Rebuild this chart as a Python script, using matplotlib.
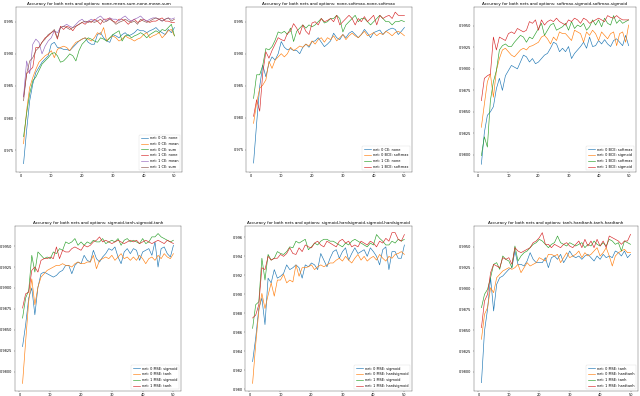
import matplotlib
matplotlib.use("Agg")
import matplotlib.pyplot as plt

epochs = list(range(1, 51))
title_prefix = "Accuracy for both nets and options: "

# ---------- panel 1 ----------
p1_title = "none-mean-sum-none-mean-sum"
p1_labels = ["net: 0 CE: none", "net: 0 CE: mean", "net: 0 CE: sum",
             "net: 1 CE: none", "net: 1 CE: mean", "net: 1 CE: sum"]
p1_n0_none = [0.9729, 0.9781, 0.9827, 0.9853, 0.9871, 0.9879, 0.9887, 0.9892, 0.9897, 0.9915,
              0.9918, 0.9910, 0.9909, 0.9907, 0.9907, 0.9905, 0.9910, 0.9915, 0.9920, 0.9923,
              0.9925, 0.9918, 0.9915, 0.9915, 0.9930, 0.9933, 0.9925, 0.9920, 0.9918, 0.9930,
              0.9928, 0.9925, 0.9930, 0.9933, 0.9928, 0.9930, 0.9933, 0.9938, 0.9936, 0.9936,
              0.9933, 0.9936, 0.9938, 0.9941, 0.9936, 0.9933, 0.9930, 0.9938, 0.9933, 0.9941]
p1_n0_mean = [0.9760, 0.9812, 0.9848, 0.9863, 0.9876, 0.9887, 0.9892, 0.9897, 0.9900, 0.9905,
              0.9894, 0.9907, 0.9910, 0.9912, 0.9910, 0.9905, 0.9912, 0.9918, 0.9920, 0.9923,
              0.9925, 0.9923, 0.9920, 0.9925, 0.9933, 0.9930, 0.9941, 0.9920, 0.9925, 0.9928,
              0.9925, 0.9920, 0.9923, 0.9928, 0.9925, 0.9923, 0.9920, 0.9923, 0.9925, 0.9930,
              0.9933, 0.9925, 0.9928, 0.9930, 0.9933, 0.9925, 0.9930, 0.9936, 0.9938, 0.9928]
p1_n0_sum = [0.9771, 0.9807, 0.9838, 0.9858, 0.9864, 0.9874, 0.9884, 0.9889, 0.9894, 0.9900,
             0.9902, 0.9897, 0.9887, 0.9889, 0.9894, 0.9900, 0.9897, 0.9889, 0.9905, 0.9915,
             0.9920, 0.9925, 0.9923, 0.9920, 0.9918, 0.9925, 0.9923, 0.9920, 0.9925, 0.9930,
             0.9933, 0.9936, 0.9920, 0.9928, 0.9930, 0.9925, 0.9928, 0.9930, 0.9933, 0.9930,
             0.9925, 0.9930, 0.9933, 0.9936, 0.9933, 0.9938, 0.9936, 0.9941, 0.9946, 0.9928]
p1_n1_none = [0.9833, 0.9869, 0.9874, 0.9879, 0.9910, 0.9910, 0.9918, 0.9925, 0.9928, 0.9933,
              0.9936, 0.9923, 0.9943, 0.9938, 0.9943, 0.9941, 0.9936, 0.9943, 0.9946, 0.9949,
              0.9946, 0.9951, 0.9949, 0.9954, 0.9951, 0.9946, 0.9954, 0.9954, 0.9956, 0.9951,
              0.9949, 0.9954, 0.9954, 0.9951, 0.9946, 0.9951, 0.9954, 0.9949, 0.9951, 0.9954,
              0.9951, 0.9949, 0.9951, 0.9951, 0.9954, 0.9956, 0.9951, 0.9951, 0.9949, 0.9949]
p1_n1_mean = [0.9833, 0.9889, 0.9869, 0.9915, 0.9923, 0.9918, 0.9900, 0.9912, 0.9920, 0.9925,
              0.9936, 0.9933, 0.9941, 0.9943, 0.9946, 0.9943, 0.9941, 0.9946, 0.9951, 0.9954,
              0.9949, 0.9951, 0.9954, 0.9951, 0.9956, 0.9959, 0.9954, 0.9951, 0.9956, 0.9954,
              0.9954, 0.9951, 0.9956, 0.9959, 0.9954, 0.9951, 0.9954, 0.9956, 0.9959, 0.9954,
              0.9951, 0.9954, 0.9956, 0.9956, 0.9954, 0.9951, 0.9954, 0.9956, 0.9954, 0.9956]
p1_n1_sum = [0.9827, 0.9869, 0.9889, 0.9894, 0.9905, 0.9910, 0.9918, 0.9923, 0.9930, 0.9933,
             0.9938, 0.9925, 0.9941, 0.9943, 0.9941, 0.9938, 0.9941, 0.9943, 0.9946, 0.9949,
             0.9951, 0.9949, 0.9951, 0.9949, 0.9951, 0.9954, 0.9949, 0.9951, 0.9954, 0.9951,
             0.9946, 0.9949, 0.9951, 0.9954, 0.9951, 0.9949, 0.9951, 0.9946, 0.9954, 0.9951,
             0.9949, 0.9951, 0.9954, 0.9956, 0.9954, 0.9951, 0.9954, 0.9956, 0.9951, 0.9954]
p1_ticks = [0.975, 0.980, 0.985, 0.990, 0.995]
p1_ylim = (0.9716, 0.9973)

# ---------- panel 2 ----------
p2_title = "none-softmax-none-softmax"
p2_labels = ["net: 0 CE: none", "net: 0 BCE: softmax", "net: 1 CE: none", "net: 1 BCE: softmax"]
p2_a = [0.9729, 0.9791, 0.9849, 0.9882, 0.9864, 0.9885, 0.9895, 0.9890, 0.9900, 0.9919,
        0.9910, 0.9906, 0.9908, 0.9905, 0.9905, 0.9900, 0.9910, 0.9915, 0.9910, 0.9919,
        0.9920, 0.9925, 0.9918, 0.9911, 0.9915, 0.9920, 0.9932, 0.9925, 0.9922, 0.9930,
        0.9925, 0.9932, 0.9935, 0.9930, 0.9925, 0.9930, 0.9938, 0.9932, 0.9925, 0.9933,
        0.9935, 0.9937, 0.9930, 0.9935, 0.9938, 0.9940, 0.9938, 0.9930, 0.9935, 0.9941]
p2_b = [0.9791, 0.9823, 0.9846, 0.9851, 0.9859, 0.9888, 0.9877, 0.9890, 0.9895, 0.9900,
        0.9895, 0.9900, 0.9910, 0.9905, 0.9908, 0.9912, 0.9910, 0.9915, 0.9912, 0.9920,
        0.9915, 0.9922, 0.9925, 0.9918, 0.9925, 0.9922, 0.9928, 0.9920, 0.9925, 0.9930,
        0.9922, 0.9928, 0.9932, 0.9928, 0.9925, 0.9930, 0.9935, 0.9928, 0.9930, 0.9933,
        0.9928, 0.9932, 0.9930, 0.9935, 0.9932, 0.9928, 0.9933, 0.9935, 0.9932, 0.9928]
p2_c = [0.9830, 0.9867, 0.9867, 0.9882, 0.9908, 0.9906, 0.9911, 0.9921, 0.9934, 0.9932,
        0.9935, 0.9930, 0.9940, 0.9919, 0.9935, 0.9940, 0.9945, 0.9940, 0.9945, 0.9942,
        0.9945, 0.9950, 0.9955, 0.9948, 0.9950, 0.9955, 0.9955, 0.9960, 0.9955, 0.9934,
        0.9945, 0.9950, 0.9955, 0.9960, 0.9950, 0.9955, 0.9955, 0.9950, 0.9945, 0.9950,
        0.9955, 0.9960, 0.9955, 0.9950, 0.9950, 0.9945, 0.9950, 0.9950, 0.9952, 0.9950]
p2_d = [0.9802, 0.9828, 0.9810, 0.9870, 0.9903, 0.9893, 0.9905, 0.9915, 0.9925, 0.9922,
        0.9920, 0.9932, 0.9935, 0.9947, 0.9940, 0.9930, 0.9945, 0.9935, 0.9930, 0.9948,
        0.9950, 0.9945, 0.9955, 0.9950, 0.9952, 0.9955, 0.9950, 0.9960, 0.9945, 0.9950,
        0.9955, 0.9960, 0.9955, 0.9945, 0.9955, 0.9950, 0.9958, 0.9950, 0.9955, 0.9960,
        0.9945, 0.9960, 0.9955, 0.9958, 0.9960, 0.9955, 0.9965, 0.9960, 0.9960, 0.9960]
p2_ticks = [0.975, 0.980, 0.985, 0.990, 0.995]
p2_ylim = (0.9715, 0.9973)

# ---------- panel 3 ----------
p3_title = "softmax-sigmoid-softmax-sigmoid"
p3_labels = ["net: 0 BCE: softmax", "net: 0 BCE: sigmoid", "net: 1 BCE: softmax", "net: 1 BCE: sigmoid"]
p3_a = [0.9789, 0.9826, 0.9846, 0.9850, 0.9856, 0.9877, 0.9889, 0.9875, 0.9892, 0.9898,
        0.9904, 0.9902, 0.9900, 0.9908, 0.9916, 0.9914, 0.9908, 0.9912, 0.9906, 0.9908,
        0.9912, 0.9916, 0.9918, 0.9924, 0.9931, 0.9929, 0.9920, 0.9924, 0.9920, 0.9926,
        0.9912, 0.9918, 0.9922, 0.9926, 0.9931, 0.9924, 0.9937, 0.9926, 0.9927, 0.9933,
        0.9929, 0.9934, 0.9929, 0.9926, 0.9933, 0.9935, 0.9931, 0.9927, 0.9939, 0.9927]
p3_b = [0.9832, 0.9859, 0.9885, 0.9894, 0.9867, 0.9898, 0.9912, 0.9922, 0.9924, 0.9920,
        0.9916, 0.9914, 0.9918, 0.9922, 0.9924, 0.9922, 0.9926, 0.9927, 0.9929, 0.9931,
        0.9937, 0.9939, 0.9935, 0.9929, 0.9937, 0.9933, 0.9943, 0.9941, 0.9941, 0.9937,
        0.9933, 0.9945, 0.9943, 0.9941, 0.9931, 0.9943, 0.9939, 0.9945, 0.9941, 0.9933,
        0.9943, 0.9939, 0.9935, 0.9941, 0.9943, 0.9927, 0.9941, 0.9943, 0.9931, 0.9951]
p3_c = [0.9799, 0.9821, 0.9809, 0.9863, 0.9885, 0.9898, 0.9922, 0.9927, 0.9929, 0.9926,
        0.9926, 0.9931, 0.9935, 0.9939, 0.9937, 0.9931, 0.9937, 0.9935, 0.9941, 0.9947,
        0.9953, 0.9939, 0.9945, 0.9951, 0.9953, 0.9945, 0.9947, 0.9949, 0.9953, 0.9945,
        0.9955, 0.9947, 0.9951, 0.9949, 0.9953, 0.9945, 0.9949, 0.9957, 0.9951, 0.9957,
        0.9949, 0.9959, 0.9953, 0.9951, 0.9962, 0.9953, 0.9957, 0.9953, 0.9955, 0.9957]
p3_d = [0.9863, 0.9889, 0.9892, 0.9894, 0.9937, 0.9922, 0.9937, 0.9935, 0.9933, 0.9941,
        0.9943, 0.9941, 0.9947, 0.9945, 0.9943, 0.9945, 0.9955, 0.9953, 0.9957, 0.9945,
        0.9957, 0.9951, 0.9955, 0.9957, 0.9955, 0.9959, 0.9955, 0.9953, 0.9951, 0.9957,
        0.9955, 0.9959, 0.9957, 0.9953, 0.9959, 0.9957, 0.9953, 0.9955, 0.9957, 0.9959,
        0.9957, 0.9955, 0.9962, 0.9960, 0.9959, 0.9962, 0.9959, 0.9957, 0.9957, 0.9957]
p3_ticks = [0.9800, 0.9825, 0.9850, 0.9875, 0.9900, 0.9925, 0.9950]
p3_ylim = (0.9780, 0.9972)

# ---------- panel 4 ----------
p4_title = "sigmoid-tanh-sigmoid-tanh"
p4_labels = ["net: 0 MSE: sigmoid", "net: 0 MSE: tanh", "net: 1 MSE: sigmoid", "net: 1 MSE: tanh"]
p4_a = [0.9830, 0.9856, 0.9888, 0.9900, 0.9868, 0.9901, 0.9917, 0.9919, 0.9917, 0.9915,
        0.9913, 0.9915, 0.9919, 0.9921, 0.9927, 0.9927, 0.9917, 0.9927, 0.9931, 0.9929,
        0.9939, 0.9933, 0.9931, 0.9945, 0.9935, 0.9931, 0.9937, 0.9941, 0.9947, 0.9945,
        0.9949, 0.9937, 0.9929, 0.9943, 0.9947, 0.9941, 0.9947, 0.9945, 0.9933, 0.9943,
        0.9945, 0.9947, 0.9939, 0.9955, 0.9925, 0.9947, 0.9949, 0.9941, 0.9937, 0.9951]
p4_b = [0.9786, 0.9836, 0.9884, 0.9911, 0.9880, 0.9901, 0.9913, 0.9917, 0.9921, 0.9923,
        0.9925, 0.9927, 0.9927, 0.9929, 0.9927, 0.9927, 0.9925, 0.9929, 0.9931, 0.9929,
        0.9929, 0.9931, 0.9931, 0.9939, 0.9923, 0.9933, 0.9935, 0.9937, 0.9935, 0.9939,
        0.9933, 0.9937, 0.9941, 0.9935, 0.9937, 0.9933, 0.9937, 0.9933, 0.9939, 0.9935,
        0.9929, 0.9935, 0.9937, 0.9933, 0.9939, 0.9935, 0.9941, 0.9937, 0.9935, 0.9941]
p4_c = [0.9864, 0.9888, 0.9897, 0.9939, 0.9919, 0.9943, 0.9939, 0.9935, 0.9937, 0.9935,
        0.9943, 0.9941, 0.9947, 0.9945, 0.9955, 0.9953, 0.9955, 0.9959, 0.9951, 0.9955,
        0.9951, 0.9955, 0.9953, 0.9957, 0.9955, 0.9955, 0.9959, 0.9953, 0.9955, 0.9957,
        0.9955, 0.9959, 0.9951, 0.9957, 0.9959, 0.9955, 0.9957, 0.9955, 0.9953, 0.9959,
        0.9953, 0.9955, 0.9961, 0.9961, 0.9965, 0.9961, 0.9959, 0.9957, 0.9955, 0.9957]
p4_d = [0.9876, 0.9893, 0.9895, 0.9921, 0.9925, 0.9919, 0.9933, 0.9935, 0.9935, 0.9937,
        0.9935, 0.9949, 0.9935, 0.9945, 0.9943, 0.9943, 0.9947, 0.9949, 0.9947, 0.9945,
        0.9951, 0.9949, 0.9951, 0.9955, 0.9957, 0.9961, 0.9955, 0.9957, 0.9955, 0.9953,
        0.9955, 0.9957, 0.9955, 0.9953, 0.9955, 0.9957, 0.9955, 0.9957, 0.9953, 0.9955,
        0.9957, 0.9955, 0.9953, 0.9955, 0.9957, 0.9955, 0.9953, 0.9957, 0.9955, 0.9953]
p4_ticks = [0.9800, 0.9825, 0.9850, 0.9875, 0.9900, 0.9925, 0.9950]
p4_ylim = (0.9777, 0.9974)

# ---------- panel 5 ----------
p5_title = "sigmoid-hardsigmoid-sigmoid-hardsigmoid"
p5_labels = ["net: 0 MSE: sigmoid", "net: 0 MSE: hardsigmoid", "net: 1 MSE: sigmoid", "net: 1 MSE: hardsigmoid"]
p5_a = [0.9829, 0.9854, 0.9885, 0.9896, 0.9868, 0.9917, 0.9912, 0.9926, 0.9917, 0.9919,
        0.9922, 0.9931, 0.9926, 0.9928, 0.9931, 0.9928, 0.9917, 0.9931, 0.9929, 0.9933,
        0.9931, 0.9926, 0.9943, 0.9936, 0.9929, 0.9938, 0.9945, 0.9947, 0.9938, 0.9945,
        0.9949, 0.9936, 0.9943, 0.9949, 0.9943, 0.9945, 0.9947, 0.9940, 0.9949, 0.9945,
        0.9940, 0.9931, 0.9947, 0.9950, 0.9926, 0.9945, 0.9945, 0.9938, 0.9938, 0.9952]
p5_b = [0.9806, 0.9847, 0.9882, 0.9901, 0.9885, 0.9899, 0.9912, 0.9898, 0.9915, 0.9915,
        0.9921, 0.9912, 0.9915, 0.9913, 0.9931, 0.9919, 0.9928, 0.9928, 0.9929, 0.9931,
        0.9926, 0.9929, 0.9931, 0.9929, 0.9931, 0.9933, 0.9933, 0.9936, 0.9938, 0.9935,
        0.9940, 0.9936, 0.9933, 0.9938, 0.9942, 0.9936, 0.9940, 0.9935, 0.9938, 0.9940,
        0.9936, 0.9942, 0.9938, 0.9935, 0.9940, 0.9938, 0.9942, 0.9943, 0.9945, 0.9942]
p5_c = [0.9864, 0.9889, 0.9892, 0.9938, 0.9915, 0.9942, 0.9936, 0.9938, 0.9945, 0.9943,
        0.9942, 0.9945, 0.9950, 0.9949, 0.9956, 0.9954, 0.9956, 0.9958, 0.9947, 0.9950,
        0.9954, 0.9952, 0.9956, 0.9958, 0.9958, 0.9956, 0.9956, 0.9954, 0.9952, 0.9950,
        0.9954, 0.9952, 0.9956, 0.9958, 0.9956, 0.9954, 0.9952, 0.9950, 0.9954, 0.9952,
        0.9963, 0.9959, 0.9956, 0.9952, 0.9952, 0.9956, 0.9954, 0.9958, 0.9956, 0.9958]
p5_d = [0.9875, 0.9878, 0.9889, 0.9928, 0.9926, 0.9940, 0.9936, 0.9938, 0.9938, 0.9942,
        0.9940, 0.9943, 0.9949, 0.9943, 0.9942, 0.9949, 0.9945, 0.9952, 0.9950, 0.9949,
        0.9954, 0.9956, 0.9952, 0.9950, 0.9956, 0.9954, 0.9952, 0.9950, 0.9956, 0.9958,
        0.9954, 0.9956, 0.9950, 0.9952, 0.9950, 0.9956, 0.9954, 0.9952, 0.9956, 0.9954,
        0.9950, 0.9956, 0.9954, 0.9959, 0.9956, 0.9965, 0.9965, 0.9958, 0.9956, 0.9963]
p5_ticks = [0.980, 0.982, 0.984, 0.986, 0.988, 0.990, 0.992, 0.994, 0.996]
p5_ylim = (0.9798, 0.9972)

# ---------- panel 6 ----------
p6_title = "tanh-hardtanh-tanh-hardtanh"
p6_labels = ["net: 0 MSE: tanh", "net: 0 MSE: hardtanh", "net: 1 MSE: tanh", "net: 1 MSE: hardtanh"]
p6_a = [0.9787, 0.9849, 0.9875, 0.9913, 0.9873, 0.9905, 0.9913, 0.9915, 0.9919, 0.9923,
        0.9925, 0.9945, 0.9929, 0.9929, 0.9927, 0.9933, 0.9943, 0.9935, 0.9931, 0.9931,
        0.9931, 0.9937, 0.9925, 0.9937, 0.9939, 0.9935, 0.9941, 0.9931, 0.9937, 0.9945,
        0.9939, 0.9937, 0.9939, 0.9935, 0.9939, 0.9941, 0.9937, 0.9933, 0.9939, 0.9935,
        0.9941, 0.9937, 0.9939, 0.9937, 0.9945, 0.9943, 0.9939, 0.9945, 0.9937, 0.9941]
p6_b = [0.9839, 0.9869, 0.9877, 0.9901, 0.9895, 0.9913, 0.9917, 0.9921, 0.9923, 0.9925,
        0.9923, 0.9925, 0.9929, 0.9919, 0.9925, 0.9931, 0.9927, 0.9929, 0.9931, 0.9937,
        0.9935, 0.9933, 0.9941, 0.9941, 0.9939, 0.9941, 0.9931, 0.9937, 0.9943, 0.9937,
        0.9939, 0.9941, 0.9945, 0.9937, 0.9943, 0.9939, 0.9941, 0.9945, 0.9949, 0.9939,
        0.9943, 0.9949, 0.9939, 0.9927, 0.9939, 0.9943, 0.9945, 0.9947, 0.9943, 0.9943]
p6_c = [0.9877, 0.9893, 0.9899, 0.9913, 0.9929, 0.9931, 0.9923, 0.9939, 0.9935, 0.9933,
        0.9925, 0.9951, 0.9933, 0.9939, 0.9943, 0.9945, 0.9949, 0.9953, 0.9955, 0.9959,
        0.9957, 0.9953, 0.9949, 0.9953, 0.9955, 0.9963, 0.9955, 0.9953, 0.9951, 0.9955,
        0.9953, 0.9951, 0.9953, 0.9955, 0.9949, 0.9953, 0.9951, 0.9957, 0.9953, 0.9951,
        0.9955, 0.9951, 0.9959, 0.9957, 0.9953, 0.9955, 0.9945, 0.9957, 0.9955, 0.9953]
p6_d = [0.9853, 0.9885, 0.9893, 0.9919, 0.9929, 0.9927, 0.9925, 0.9937, 0.9935, 0.9937,
        0.9929, 0.9949, 0.9945, 0.9943, 0.9945, 0.9947, 0.9949, 0.9955, 0.9957, 0.9961,
        0.9967, 0.9953, 0.9953, 0.9949, 0.9953, 0.9951, 0.9949, 0.9953, 0.9955, 0.9951,
        0.9949, 0.9953, 0.9957, 0.9949, 0.9959, 0.9951, 0.9957, 0.9949, 0.9959, 0.9951,
        0.9957, 0.9949, 0.9963, 0.9961, 0.9959, 0.9957, 0.9953, 0.9957, 0.9957, 0.9965]
p6_ticks = [0.9800, 0.9825, 0.9850, 0.9875, 0.9900, 0.9925, 0.9950]
p6_ylim = (0.9777, 0.9975)

panels = [
    (p1_title, p1_labels, [p1_n0_none, p1_n0_mean, p1_n0_sum, p1_n1_none, p1_n1_mean, p1_n1_sum], p1_ticks, "{:.3f}", p1_ylim),
    (p2_title, p2_labels, [p2_a, p2_b, p2_c, p2_d], p2_ticks, "{:.3f}", p2_ylim),
    (p3_title, p3_labels, [p3_a, p3_b, p3_c, p3_d], p3_ticks, "{:.4f}", p3_ylim),
    (p4_title, p4_labels, [p4_a, p4_b, p4_c, p4_d], p4_ticks, "{:.4f}", p4_ylim),
    (p5_title, p5_labels, [p5_a, p5_b, p5_c, p5_d], p5_ticks, "{:.3f}", p5_ylim),
    (p6_title, p6_labels, [p6_a, p6_b, p6_c, p6_d], p6_ticks, "{:.4f}", p6_ylim),
]

# axes boxes in pixels: left, top, right, bottom
W, H = 640, 396
boxes = [(16, 7, 182, 172), (246, 7, 412, 172), (474, 7, 636, 172),
         (15, 226, 181, 391), (245, 226, 412, 391), (474, 226, 638, 391)]

fig = plt.figure(figsize=(25.6, 15.84), dpi=25)
for (title, labels, series, ticks, fmt, ylim), (l, t, r, b) in zip(panels, boxes):
    ax = fig.add_axes([l / W, 1 - b / H, (r - l) / W, (b - t) / H])
    for s, lab in zip(series, labels):
        ax.plot(epochs, s, label=lab, linewidth=1.8)
    ax.set_ylim(*ylim)
    ax.set_yticks(ticks)
    ax.set_yticklabels([fmt.format(v) for v in ticks])
    ax.set_xticks([0, 10, 20, 30, 40, 50])
    ax.set_title(title_prefix + title)
    ax.legend(loc="lower right")

fig.savefig("out.png", dpi=25)
